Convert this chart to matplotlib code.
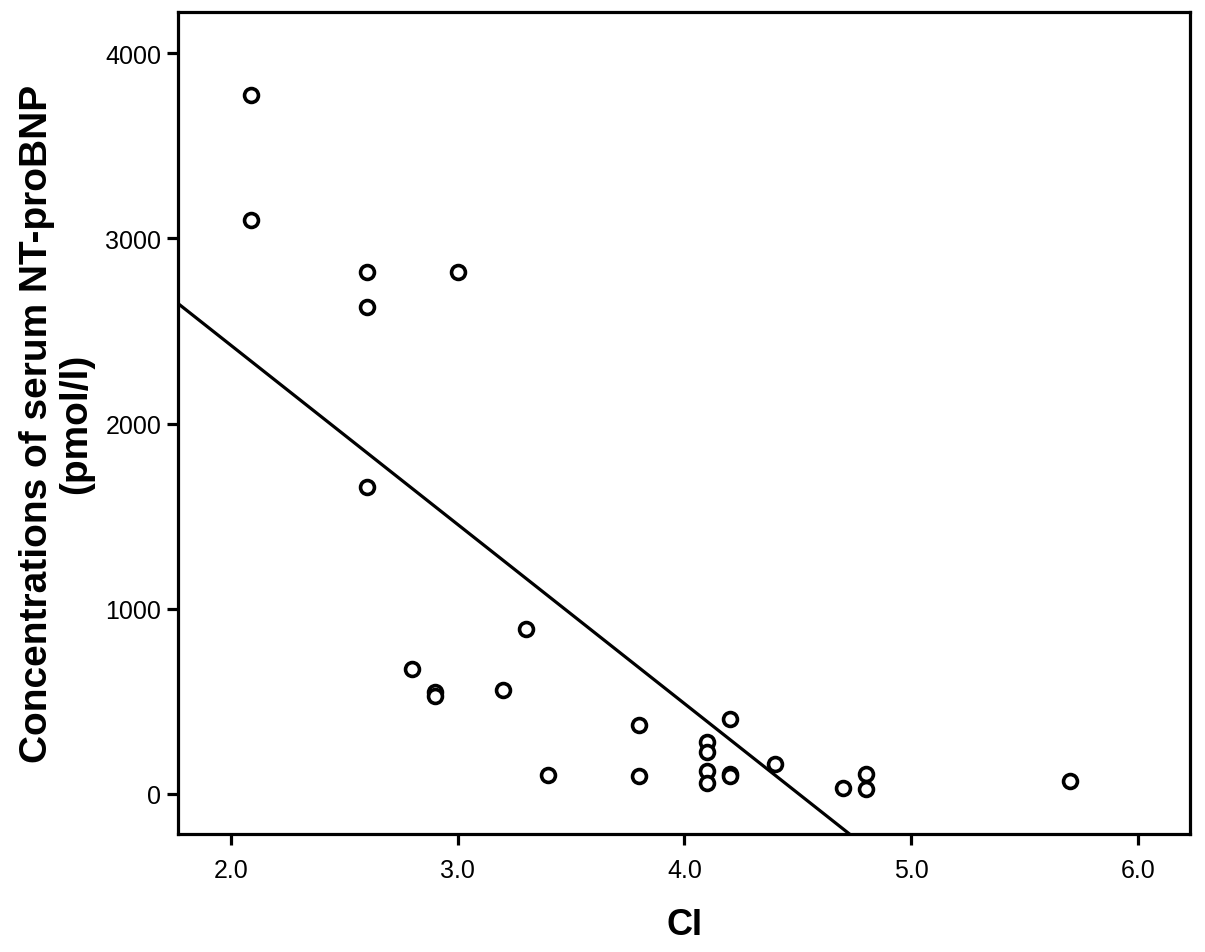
import matplotlib
matplotlib.use("Agg")
import matplotlib.pyplot as plt
import numpy as np

plt.rcParams["font.family"] = ["Liberation Sans", "DejaVu Sans"]

# cardiac index vs serum NT-proBNP
ci = [2.09, 2.09, 2.6, 2.6, 3.0, 2.6, 2.8, 2.9, 2.9, 3.2, 3.3, 3.4,
      3.8, 3.8, 4.1, 4.1, 4.1, 4.1, 4.2, 4.2, 4.2, 4.4, 4.7, 4.8, 4.8, 5.7]
ntprobnp = [3773, 3097, 2816, 2627, 2816, 1659, 676, 551, 530, 562, 892, 103,
            373, 97, 281, 227, 124, 59, 405, 108, 95, 162, 32, 108, 27, 70]

# fitted line
fit_slope = -967
fit_intercept = 4356

x_ticks = [2.0, 3.0, 4.0, 5.0, 6.0]
y_ticks = [0, 1000, 2000, 3000, 4000]

fig = plt.figure(figsize=(12.05, 9.53), dpi=100)
ax = fig.add_axes([178 / 1205, 1 - 835 / 953, (1190 - 178) / 1205, (835 - 13) / 953])

ax.scatter(ci, ntprobnp, s=100, facecolors="white", edgecolors="black",
           linewidths=2.6, zorder=3)

xlim = (1.766, 6.23)
xs = np.array(xlim)
ax.plot(xs, fit_intercept + fit_slope * xs, color="black", lw=2.3, zorder=2)

ax.set_xlim(*xlim)
ax.set_ylim(-216, 4222)
ax.set_xticks(x_ticks)
ax.set_xticklabels([f"{v:.1f}" for v in x_ticks])
ax.set_yticks(y_ticks)
ax.set_yticklabels([str(v) for v in y_ticks])

for s in ax.spines.values():
    s.set_linewidth(2.3)
ax.tick_params(direction="out", length=8, width=2.3, labelsize=18, pad=4)
ax.tick_params(axis="x", pad=9)

ax.set_xlabel("CI", fontsize=26, fontweight="bold", labelpad=18)
ax.set_ylabel("Concentrations of serum NT-proBNP\n(pmol/l)", fontsize=28,
              fontweight="bold", labelpad=8, linespacing=1.1)

plt.savefig("out.png", dpi=100)
plt.close()
